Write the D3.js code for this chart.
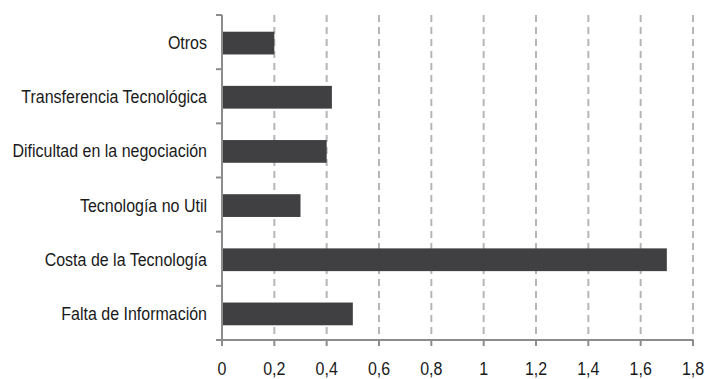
<!DOCTYPE html>
<html>
<head>
<meta charset="utf-8">
<script src="https://cdn.jsdelivr.net/npm/d3@7"></script>
<style>
  html, body { margin: 0; padding: 0; background: #fff; }
  svg { display: block; font-family: "Liberation Sans", Arial, sans-serif; }
</style>
</head>
<body>
<div id="chart"></div>
<script>
// Categories listed top to bottom
const categories = [
  "Otros",
  "Transferencia Tecnológica",
  "Dificultad en la negociación",
  "Tecnología no Util",
  "Costa de la Tecnología",
  "Falta de Información"
];
const values = [0.2, 0.42, 0.4, 0.3, 1.7, 0.5];
const xTicks = [0, 0.2, 0.4, 0.6, 0.8, 1, 1.2, 1.4, 1.6, 1.8];

const width = 705, height = 379;
const margin = { top: 15, right: 12, bottom: 39, left: 222 };

const svg = d3.select("#chart").append("svg")
  .attr("width", width).attr("height", height);

const x = d3.scaleLinear().domain([0, 1.8])
  .range([margin.left, width - margin.right]);
const y = d3.scaleBand().domain(categories)
  .range([margin.top, height - margin.bottom])
  .paddingInner(0.58).paddingOuter(0.29);

const axisColor = "#8c8c8c";
const textColor = "#1a1a1a";
const fontSize = 16;
const stretchY = 1.12; // labels are drawn slightly tall
const fmt = d => String(d).replace(".", ",");

// Dashed vertical gridlines
svg.append("g").selectAll("line")
  .data(xTicks.filter(d => d > 0))
  .join("line")
  .attr("x1", d => x(d)).attr("x2", d => x(d))
  .attr("y1", margin.top).attr("y2", height - margin.bottom)
  .attr("stroke", "#b6b6b9").attr("stroke-width", 2)
  .attr("stroke-dasharray", "7,5");

// Bars
svg.append("g").selectAll("rect")
  .data(categories)
  .join("rect")
  .attr("x", x(0))
  .attr("y", d => y(d) + 1)
  .attr("width", (d, i) => x(values[i]) - x(0))
  .attr("height", y.bandwidth())
  .attr("fill", "#404043");

// Y axis: line with tick marks at band boundaries
const yAxisG = svg.append("g");
yAxisG.append("line")
  .attr("x1", x(0)).attr("x2", x(0))
  .attr("y1", margin.top).attr("y2", height - margin.bottom)
  .attr("stroke", axisColor).attr("stroke-width", 2);
const bounds = d3.range(categories.length + 1).map(i =>
  margin.top + i * (height - margin.top - margin.bottom) / categories.length);
yAxisG.selectAll("line.tick").data(bounds).join("line")
  .attr("class", "tick")
  .attr("x1", x(0) - 6).attr("x2", x(0))
  .attr("y1", d => d).attr("y2", d => d)
  .attr("stroke", axisColor).attr("stroke-width", 2);
yAxisG.selectAll("text").data(categories).join("text")
  .attr("transform", d => `translate(${x(0) - 15},${y(d) + y.bandwidth() / 2 + 7}) scale(1,${stretchY})`)
  .attr("text-anchor", "end")
  .attr("font-size", fontSize)
  .attr("fill", textColor)
  .text(d => d);

// X axis
const xAxisG = svg.append("g");
xAxisG.append("line")
  .attr("x1", x(0) - 6).attr("x2", x(1.8))
  .attr("y1", height - margin.bottom).attr("y2", height - margin.bottom)
  .attr("stroke", axisColor).attr("stroke-width", 2);
xAxisG.selectAll("line.tick").data(xTicks).join("line")
  .attr("class", "tick")
  .attr("x1", d => x(d)).attr("x2", d => x(d))
  .attr("y1", height - margin.bottom).attr("y2", height - margin.bottom + 6)
  .attr("stroke", axisColor).attr("stroke-width", 2);
xAxisG.selectAll("text").data(xTicks).join("text")
  .attr("transform", d => `translate(${x(d)},${height - margin.bottom + 35}) scale(1,${stretchY})`)
  .attr("text-anchor", "middle")
  .attr("font-size", fontSize)
  .attr("fill", textColor)
  .text(fmt);
</script>
</body>
</html>
